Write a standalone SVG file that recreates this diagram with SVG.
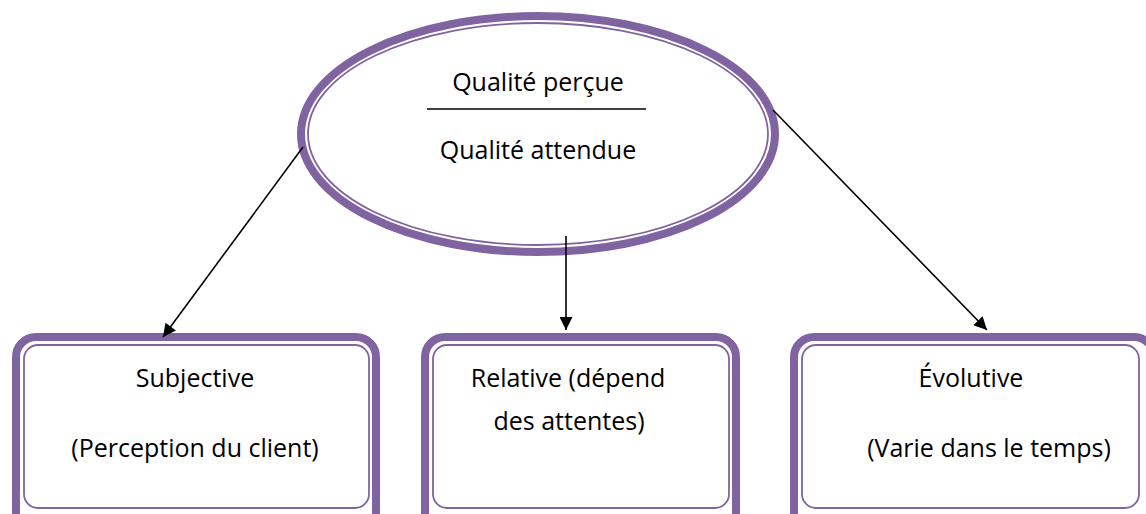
<svg xmlns="http://www.w3.org/2000/svg" width="1146" height="514" viewBox="0 0 1146 514">
  <defs>
    <style>
      .thick { fill: none; stroke: #8064A2; stroke-width: 8; }
      .thin { fill: none; stroke: #8064A2; stroke-width: 1.8; }
      .lbl { font-family: "Open Sans", "Liberation Sans", sans-serif; font-size: 25px; fill: #000; text-anchor: middle; }
      .conn { stroke: #000; stroke-width: 1.6; fill: none; marker-end: url(#arrow); }
    </style>
    <marker id="arrow" viewBox="0 0 10 10" refX="10" refY="5" markerWidth="15" markerHeight="13" markerUnits="userSpaceOnUse" orient="auto">
      <path d="M0,0 L10,5 L0,10 z" fill="#000"/>
    </marker>
  </defs>
  <rect width="1146" height="514" fill="#fff"/>

  <!-- central ellipse: ratio of perceived over expected quality -->
  <g id="ratio">
    <ellipse class="thick" cx="538" cy="134" rx="237" ry="118"/>
    <ellipse class="thin" cx="538" cy="134" rx="230" ry="111"/>
    <text class="lbl" x="538" y="91">Qualité perçue</text>
    <line x1="427" y1="109" x2="646" y2="109" stroke="#000" stroke-width="1.5"/>
    <text class="lbl" x="538" y="159">Qualité attendue</text>
  </g>

  <g id="subjective">
    <rect class="thick" x="16" y="337" width="360" height="200" rx="20"/>
    <rect class="thin" x="24" y="345" width="345" height="163" rx="14"/>
    <text class="lbl" x="195" y="387">Subjective</text>
    <text class="lbl" x="195" y="457">(Perception du client)</text>
  </g>

  <g id="relative">
    <rect class="thick" x="425" y="337" width="311" height="200" rx="20"/>
    <rect class="thin" x="433" y="345" width="296" height="163" rx="14"/>
    <text class="lbl" x="568" y="387">Relative (dépend</text>
    <text class="lbl" x="569" y="430">des attentes)</text>
  </g>

  <g id="evolutive">
    <rect class="thick" x="794" y="337" width="360" height="200" rx="20"/>
    <rect class="thin" x="802" y="345" width="337" height="163" rx="14"/>
    <text class="lbl" x="971" y="387">Évolutive</text>
    <text class="lbl" x="989" y="457">(Varie dans le temps)</text>
  </g>

  <g id="connectors">
    <line class="conn" x1="303" y1="147" x2="163" y2="337"/>
    <line class="conn" x1="566" y1="236" x2="566" y2="330"/>
    <line class="conn" x1="773" y1="110" x2="987" y2="330"/>
  </g>
</svg>
